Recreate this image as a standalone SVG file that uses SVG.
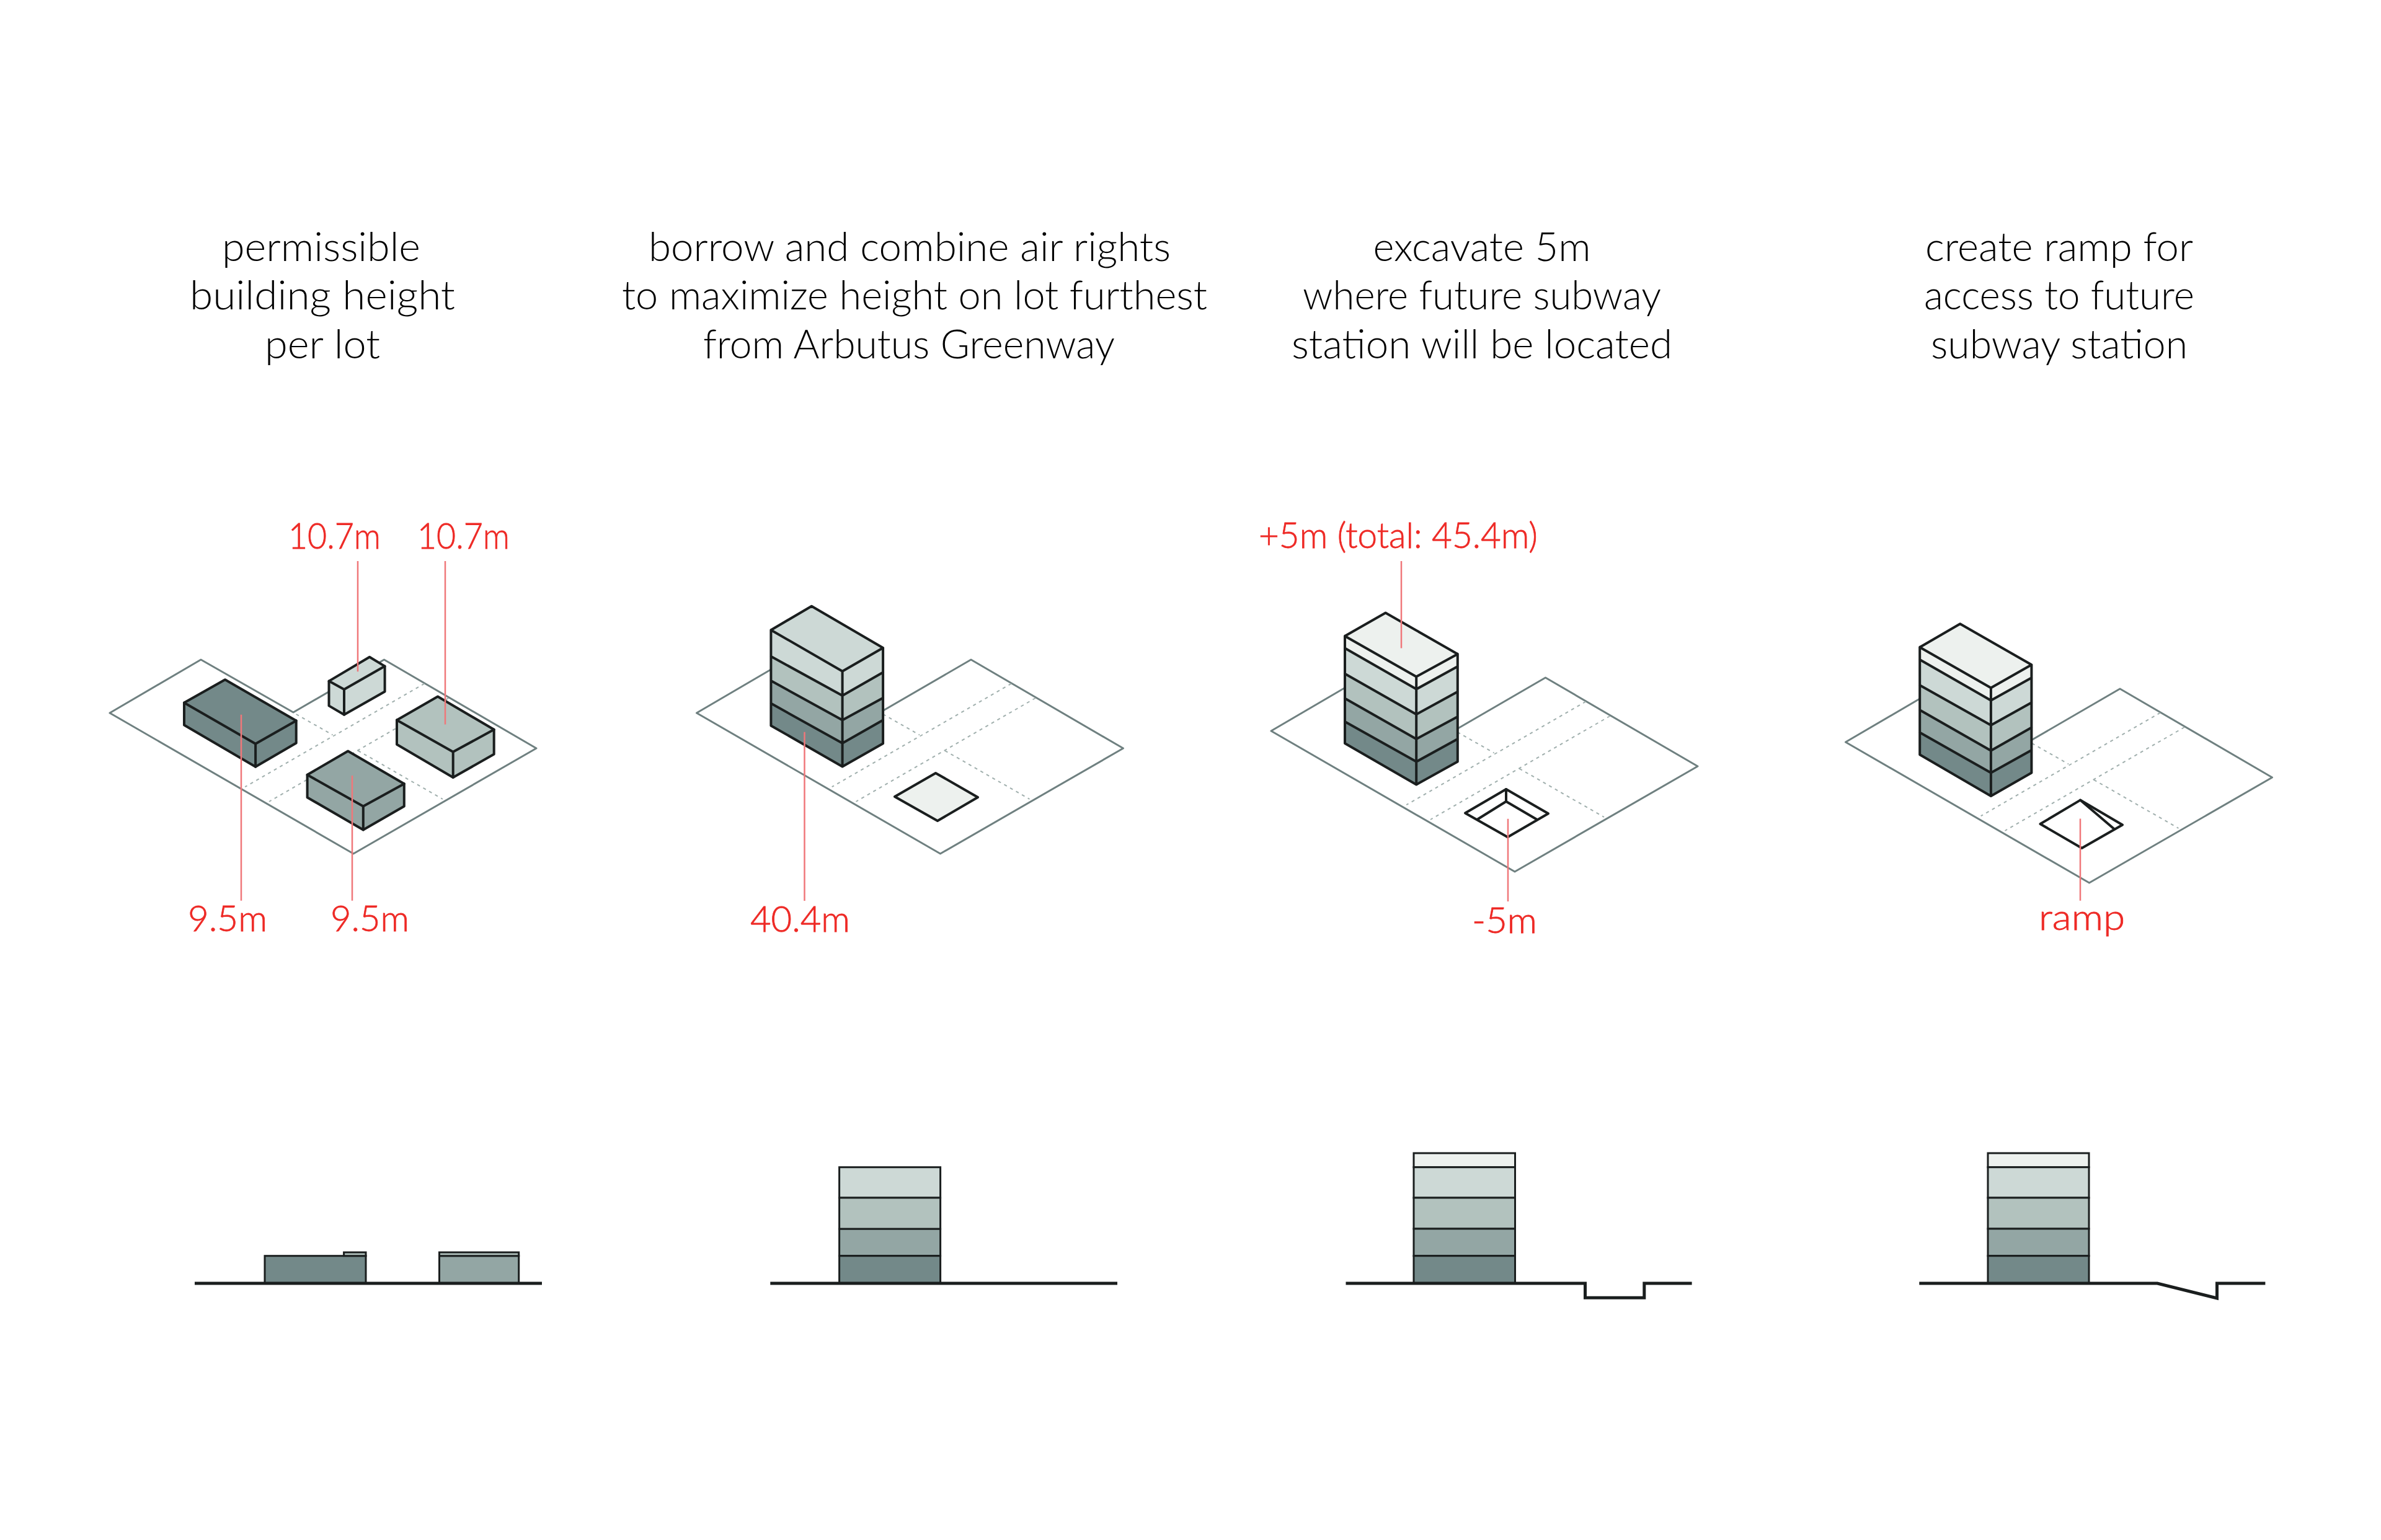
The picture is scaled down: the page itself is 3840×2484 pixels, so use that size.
<svg xmlns="http://www.w3.org/2000/svg" width="3840" height="2484" viewBox="0 0 3840 2484">
<style>
.cap{font-family:"Lato","Open Sans","Liberation Sans",sans-serif;font-weight:300;font-size:65px;fill:#000;text-anchor:middle}
.lab{font-family:"Lato","Open Sans","Liberation Sans",sans-serif;font-weight:300;font-size:58px;fill:#ee2a26;stroke:#ee2a26;stroke-width:.8}
.plot{fill:#fff;stroke:#6f8080;stroke-width:3;stroke-linejoin:round}
.dash{fill:none;stroke:#a0afad;stroke-width:2;stroke-dasharray:5 6}
.e{stroke:#1a1e1e;stroke-width:4;stroke-linejoin:round;stroke-linecap:round}
.l{fill:none;stroke:#1a1e1e;stroke-width:4;stroke-linejoin:round;stroke-linecap:round}
.t{stroke:#1a1e1e;stroke-width:3}
.gnd{fill:none;stroke:#1a1e1e;stroke-width:5;stroke-linejoin:miter}
.r{stroke:#f0777a;stroke-width:2.5;fill:none}
.c1{fill:#738989}.c2{fill:#93a6a4}.c3{fill:#b2c2be}.c4{fill:#cdd9d6}.c5{fill:#edf1ee}
</style>
<defs>
<g id="site">
<polygon class="plot" points="177,1150 324,1064 473,1149 619.5,1064 865,1207 570,1377"/>
<path class="dash" d="M477.6 1152L536.5 1185.4M684.5 1102.7L395.2 1269.2M723.4 1126L434 1293M577.5 1210.8L714 1289"/>
</g>
</defs>
<g id="captions">
<text class="cap" x="518" y="421" textLength="320" lengthAdjust="spacingAndGlyphs">permissible</text>
<text class="cap" x="520" y="499" textLength="428" lengthAdjust="spacingAndGlyphs">building height</text>
<text class="cap" x="520" y="578" textLength="186" lengthAdjust="spacingAndGlyphs">per lot</text>
<text class="cap" x="1467" y="421" textLength="842" lengthAdjust="spacingAndGlyphs">borrow and combine air rights</text>
<text class="cap" x="1475" y="499" textLength="944" lengthAdjust="spacingAndGlyphs">to maximize height on lot furthest</text>
<text class="cap" x="1466" y="578" textLength="664" lengthAdjust="spacingAndGlyphs">from Arbutus Greenway</text>
<text class="cap" x="2390" y="421" textLength="351" lengthAdjust="spacingAndGlyphs">excavate 5m</text>
<text class="cap" x="2390" y="499" textLength="578" lengthAdjust="spacingAndGlyphs">where future subway</text>
<text class="cap" x="2390" y="578" textLength="614" lengthAdjust="spacingAndGlyphs">station will be located</text>
<text class="cap" x="3321" y="421" textLength="432" lengthAdjust="spacingAndGlyphs">create ramp for</text>
<text class="cap" x="3321" y="499" textLength="436" lengthAdjust="spacingAndGlyphs">access to future</text>
<text class="cap" x="3321" y="578" textLength="414" lengthAdjust="spacingAndGlyphs">subway station</text>
</g>
<g id="panel1">
<use href="#site"/>
<g id="p1-small" transform="translate(-2 0)"><polygon class="c4 e" points="598,1059.7 622.6,1074.6 622.6,1115.4 557,1152.8 532.5,1138.4 532.5,1098.6"/><path class="l" d="M532.5 1098.6L557 1112L622.6 1074.6M557 1112V1152.8"/></g>
<g id="p1-dark"><polygon class="c1 e" points="363,1096.2 477.7,1162.4 477.7,1198.4 412.1,1236.8 297,1169.6 297,1133.6"/><path class="l" d="M297 1133.6L412.1 1199.8L477.7 1162.4M412.1 1199.8V1236.8"/></g>
<g id="p1-light" transform="translate(-2 0)"><polygon class="c3 e" points="708,1123.5 798.7,1176.8 798.7,1216.6 732.7,1254 642,1200.8 642,1161.4"/><path class="l" d="M642 1161.4L732.7 1212.8L798.7 1176.8M732.7 1212.8V1254"/></g>
<g id="p1-mid" transform="translate(-2 0)"><polygon class="c2 e" points="563.2,1211.4 653.8,1264.2 653.8,1300.6 587.8,1338.6 497.6,1286.2 497.6,1249.8"/><path class="l" d="M497.6 1249.8L587.8 1300.6L653.8 1264.2M587.8 1300.6V1338.6"/></g>
</g>
<g id="panel2">
<use href="#site" transform="translate(946.5 0)"/>
<g id="p2-tower">
<polygon class="c1" points="1243.4,1134.6 1358.6,1198.8 1424.1,1161.5 1424.1,1199.2 1358.6,1236.5 1243.4,1170.4"/>
<polygon class="c2" points="1243.4,1098 1358.6,1161.5 1424.1,1125.8 1424.1,1161.5 1358.6,1198.8 1243.4,1134.6"/>
<polygon class="c3" points="1243.4,1058.8 1358.6,1121.9 1424.1,1084.6 1424.1,1125.8 1358.6,1161.5 1243.4,1098"/>
<polygon class="c4" points="1243.4,1016.2 1308.9,977.7 1424.1,1045 1424.1,1084.6 1358.6,1121.9 1243.4,1058.8"/>
<path class="l" d="M1243.4 1016.2L1308.9 977.7L1424.1 1045V1199.2L1358.6 1236.5L1243.4 1170.4ZM1243.4 1016.2L1358.6 1082.7L1424.1 1045M1243.4 1058.8L1358.6 1121.9L1424.1 1084.6M1243.4 1098L1358.6 1161.5L1424.1 1125.8M1243.4 1134.6L1358.6 1198.8L1424.1 1161.5M1358.6 1082.7V1236.5"/>
</g>
<polygon id="p2-pad" class="c5 e" points="1509,1246.9 1577,1286 1512,1324 1443,1285"/>
</g>
<g id="panel3">
<use href="#site" transform="translate(1873 29)"/>
<g id="p3-tower">
<polygon class="c1" points="2169,1164 2284.2,1228.6 2350.8,1192 2350.8,1228.6 2284.2,1265.5 2169,1199.1"/>
<polygon class="c2" points="2169,1126.5 2284.2,1192 2350.8,1156 2350.8,1192 2284.2,1228.6 2169,1164"/>
<polygon class="c3" points="2169,1086.8 2284.2,1152.3 2350.8,1115.8 2350.8,1156 2284.2,1192 2169,1126.5"/>
<polygon class="c4" points="2169,1045.6 2284.2,1111.6 2350.8,1075.1 2350.8,1115.8 2284.2,1152.3 2169,1086.8"/>
<polygon class="c5" points="2169,1025.9 2234.6,988.5 2350.8,1054.9 2350.8,1075.1 2284.2,1111.6 2169,1045.6"/>
<path class="l" d="M2169 1025.9L2234.6 988.5L2350.8 1054.9V1228.6L2284.2 1265.5L2169 1199.1ZM2169 1025.9L2284.2 1091.4L2350.8 1054.9M2169 1045.6L2284.2 1111.6L2350.8 1075.1M2169 1086.8L2284.2 1152.3L2350.8 1115.8M2169 1126.5L2284.2 1192L2350.8 1156M2169 1164L2284.2 1228.6L2350.8 1192M2284.2 1091.4V1265.5"/>
</g>
<g id="p3-pit">
<polygon class="e" fill="#fff" points="2429,1273 2497,1312.3 2431.5,1350.2 2363,1311.4"/>
<path class="l" d="M2429 1273V1292.7M2382.5 1321.7L2429 1292.7L2478.5 1321.7"/>
</g>
</g>
<g id="panel4">
<use href="#site" transform="translate(2799.5 47)"/>
<g id="p4-tower">
<polygon class="c1" points="3096.2,1181.5 3210.9,1246.5 3276.4,1210 3276.4,1246.5 3210.9,1284 3096.2,1217.3"/>
<polygon class="c2" points="3096.2,1145.3 3210.9,1210.7 3276.4,1173.5 3276.4,1210 3210.9,1246.5 3096.2,1181.5"/>
<polygon class="c3" points="3096.2,1105.2 3210.9,1169.8 3276.4,1133.3 3276.4,1173.5 3210.9,1210.7 3096.2,1145.3"/>
<polygon class="c4" points="3096.2,1064 3210.9,1129.7 3276.4,1093.2 3276.4,1133.3 3210.9,1169.8 3096.2,1105.2"/>
<polygon class="c5" points="3096.2,1043.9 3161.2,1006.3 3276.4,1072.3 3276.4,1093.2 3210.9,1129.7 3096.2,1064"/>
<path class="l" d="M3096.2 1043.9L3161.2 1006.3L3276.4 1072.3V1246.5L3210.9 1284L3096.2 1217.3ZM3096.2 1043.9L3210.9 1109.6L3276.4 1072.3M3096.2 1064L3210.9 1129.7L3276.4 1093.2M3096.2 1105.2L3210.9 1169.8L3276.4 1133.3M3096.2 1145.3L3210.9 1210.7L3276.4 1173.5M3096.2 1181.5L3210.9 1246.5L3276.4 1210M3210.9 1109.6V1284"/>
</g>
<g id="p4-ramp">
<polygon class="e" fill="#fff" points="3355,1290.6 3423,1330.4 3357.5,1368 3290.5,1329"/>
<path class="l" d="M3355 1290.6L3409.5 1337"/>
</g>
</g>
<g id="leaders">
<path class="r" d="M577 905V1083.2M718 905V1168.6M389 1152.8V1452.8M568 1251V1452.8M1297.5 1180.8V1453M2260 905V1045.6M2432 1320.8V1454M3355 1320.5V1452.7"/>
</g>
<g id="labels">
<text class="lab" x="465" y="885" textLength="149" lengthAdjust="spacingAndGlyphs">10.7m</text>
<text class="lab" x="673" y="885" textLength="149" lengthAdjust="spacingAndGlyphs">10.7m</text>
<text class="lab" x="303" y="1502" textLength="128" lengthAdjust="spacingAndGlyphs">9.5m</text>
<text class="lab" x="533" y="1502" textLength="127" lengthAdjust="spacingAndGlyphs">9.5m</text>
<text class="lab" x="1210" y="1503" textLength="161" lengthAdjust="spacingAndGlyphs">40.4m</text>
<text class="lab" x="2030" y="884" textLength="450" lengthAdjust="spacingAndGlyphs">+5m (total: 45.4m)</text>
<text class="lab" x="2374" y="1505" textLength="105" lengthAdjust="spacingAndGlyphs">-5m</text>
<text class="lab" x="3288" y="1500" textLength="139" lengthAdjust="spacingAndGlyphs">ramp</text>
</g>
<g id="section1">
<rect class="c1 t" x="427" y="2025.7" width="163" height="44.3"/>
<rect class="c3 t" x="554.6" y="2020" width="35.4" height="5.7"/>
<rect class="c2 t" x="708.5" y="2025.7" width="128.2" height="44.3"/>
<rect class="c3 t" x="708.5" y="2020" width="128.2" height="5.7"/>
<path class="gnd" d="M314 2070H874"/>
</g>
<g id="section2">
<rect class="c4 t" x="1353.6" y="1882.7" width="163" height="49.3"/>
<rect class="c3 t" x="1353.6" y="1932" width="163" height="50.3"/>
<rect class="c2 t" x="1353.6" y="1982.3" width="163" height="43.4"/>
<rect class="c1 t" x="1353.6" y="2025.7" width="163" height="44.3"/>
<path class="gnd" d="M1242.3 2070H1802"/>
</g>
<g id="section3">
<rect class="c5 t" x="2280" y="1860" width="163.5" height="22.7"/>
<rect class="c4 t" x="2280" y="1882.7" width="163.5" height="49.3"/>
<rect class="c3 t" x="2280" y="1932" width="163.5" height="50"/>
<rect class="c2 t" x="2280" y="1982" width="163.5" height="43.7"/>
<rect class="c1 t" x="2280" y="2025.7" width="163.5" height="44.3"/>
<path class="gnd" d="M2170.5 2070H2556.5V2093.3H2651.8V2070H2728.6"/>
</g>
<g id="section4">
<rect class="c5 t" x="3206" y="1860" width="163" height="22.7"/>
<rect class="c4 t" x="3206" y="1882.7" width="163" height="49.3"/>
<rect class="c3 t" x="3206" y="1932" width="163" height="50"/>
<rect class="c2 t" x="3206" y="1982" width="163" height="43.7"/>
<rect class="c1 t" x="3206" y="2025.7" width="163" height="44.3"/>
<path class="gnd" d="M3095.3 2070H3479.3L3575.5 2094V2070H3653.4"/>
</g>
</svg>
